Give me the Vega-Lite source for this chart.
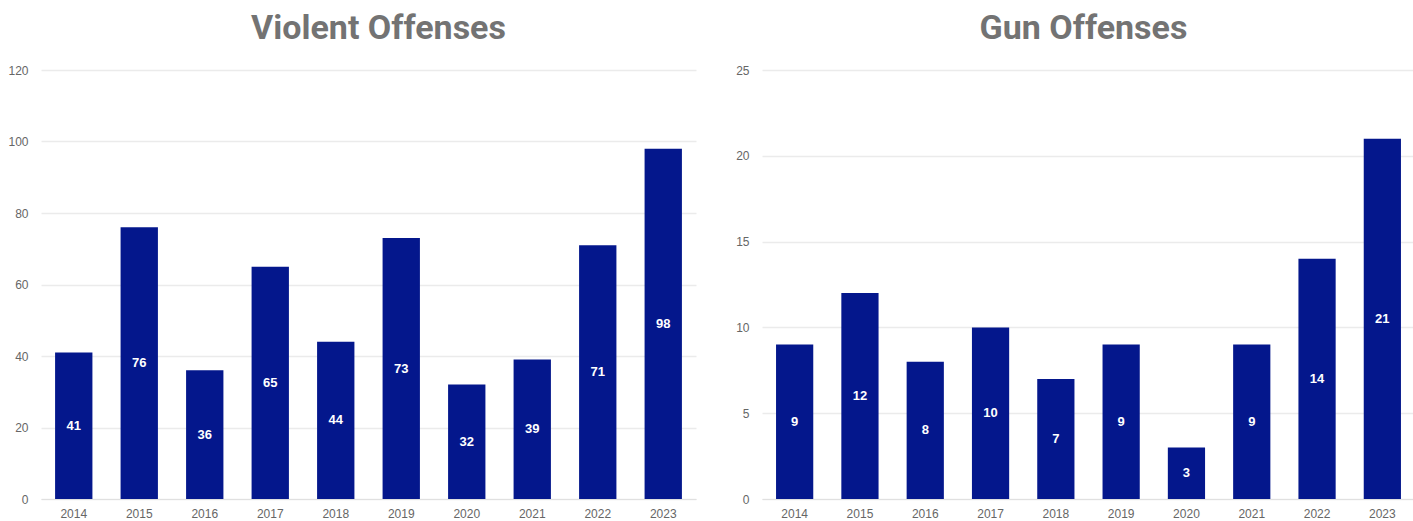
{
  "$schema": "https://vega.github.io/schema/vega-lite/v6.json",
  "padding": {"left": 7, "top": 12, "right": 0, "bottom": 0},
  "background": "white",
  "datasets": {
    "violent": [
      {"year": "2014", "v": 41}, {"year": "2015", "v": 76}, {"year": "2016", "v": 36},
      {"year": "2017", "v": 65}, {"year": "2018", "v": 44}, {"year": "2019", "v": 73},
      {"year": "2020", "v": 32}, {"year": "2021", "v": 39}, {"year": "2022", "v": 71},
      {"year": "2023", "v": 98}
    ],
    "gun": [
      {"year": "2014", "v": 9}, {"year": "2015", "v": 12}, {"year": "2016", "v": 8},
      {"year": "2017", "v": 10}, {"year": "2018", "v": 7}, {"year": "2019", "v": 9},
      {"year": "2020", "v": 3}, {"year": "2021", "v": 9}, {"year": "2022", "v": 14},
      {"year": "2023", "v": 21}
    ]
  },
  "spacing": 39,
  "hconcat": [
    {
      "width": 655,
      "height": 429,
      "data": {"name": "violent"},
      "title": {"text": "Violent Offenses", "dx": 10},
      "encoding": {
        "x": {"field": "year", "type": "ordinal", "title": null,
              "scale": {"paddingInner": 0.43, "paddingOuter": 0.215}},
        "y": {"field": "v", "type": "quantitative", "title": null,
              "scale": {"domain": [0, 120], "nice": false},
              "axis": {"values": [0, 20, 40, 60, 80, 100, 120]}}
      },
      "layer": [
        {"mark": {"type": "bar", "color": "#04178c"}},
        {"mark": {"type": "text", "color": "white", "fontWeight": "bold", "fontSize": 13, "font": "Liberation Sans", "baseline": "middle"},
         "encoding": {
           "y": {"field": "v", "type": "quantitative", "stack": "zero", "bandPosition": 0.5},
           "text": {"field": "v", "type": "quantitative"}
         }}
      ]
    },
    {
      "width": 653,
      "height": 429,
      "data": {"name": "gun"},
      "title": {"text": "Gun Offenses", "dx": -5},
      "encoding": {
        "x": {"field": "year", "type": "ordinal", "title": null,
              "scale": {"paddingInner": 0.43, "paddingOuter": 0.215}},
        "y": {"field": "v", "type": "quantitative", "title": null,
              "scale": {"domain": [0, 25], "nice": false},
              "axis": {"values": [0, 5, 10, 15, 20, 25]}}
      },
      "layer": [
        {"mark": {"type": "bar", "color": "#04178c"}},
        {"mark": {"type": "text", "color": "white", "fontWeight": "bold", "fontSize": 13, "font": "Liberation Sans", "baseline": "middle"},
         "encoding": {
           "y": {"field": "v", "type": "quantitative", "stack": "zero", "bandPosition": 0.5},
           "text": {"field": "v", "type": "quantitative"}
         }}
      ]
    }
  ],
  "config": {
    "view": {"stroke": null},
    "title": {"font": "Roboto", "fontSize": 34, "fontWeight": "bold", "color": "#737373", "anchor": "middle", "offset": 18},
    "axis": {"labelFont": "Liberation Sans", "labelFontSize": 12, "labelColor": "#666666", "ticks": false, "domain": false, "gridColor": "#ebebeb", "gridWidth": 1.5},
    "axisX": {"labelAngle": 0, "labelPadding": 9, "grid": false},
    "axisY": {"labelPadding": 13},
    "axisXBand": {"domain": true, "domainColor": "#e0e0e0"}
  }
}
